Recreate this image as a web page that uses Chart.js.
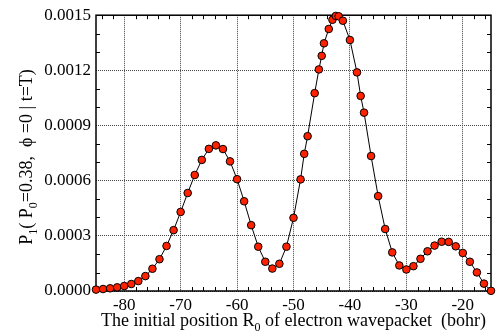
<!DOCTYPE html>
<html><head><meta charset="utf-8">
<script src="https://cdn.jsdelivr.net/npm/chart.js@4/dist/chart.umd.min.js"></script>
<style>html,body{margin:0;padding:0;background:#fff}#wrap{width:496px;height:336px;position:relative}</style>
</head><body><div id="wrap"><canvas id="c" width="496" height="336"></canvas></div>
<script>
// Initial position R0 (bohr)
const positions = [
  -85, -83.75, -82.5, -81.25, -80, -78.75, -77.5, -76.25, -75, -73.75,
  -72.5, -71.25, -70, -68.75, -67.5, -66.25, -65, -63.75, -62.5, -61.25,
  -60, -58.75, -57.5, -56.25, -55, -53.75, -52.5, -51.25, -50, -48.75,
  -48.1, -47.5, -46.25, -45.5, -45, -44.6, -43.75, -43.1, -42.5, -42.0,
  -41.25, -40, -38.75, -38.1, -37.5, -36.25, -35, -33.75, -32.5, -31.25,
  -30, -28.75, -27.5, -26.25, -25, -23.75, -22.5, -21.25, -20, -18.75,
  -17.5, -16.25, -15
];
// Probability P1
const probabilities = [
  0.0000076, 0.0000108, 0.0000146, 0.000020, 0.000027, 0.000038, 0.000054, 0.000081, 0.000121, 0.000173,
  0.000245, 0.000331, 0.000430, 0.000533, 0.000631, 0.000713, 0.000773, 0.000792, 0.000772, 0.000705,
  0.000608, 0.000488, 0.000358, 0.000241, 0.000159, 0.000122, 0.000148, 0.000241, 0.000398, 0.000607,
  0.000746, 0.000842, 0.001076, 0.001205, 0.001279, 0.001347, 0.001425, 0.001475, 0.001496, 0.001494,
  0.001470, 0.001365, 0.001189, 0.001061, 0.000970, 0.000734, 0.000516, 0.000337, 0.000210, 0.000139,
  0.000117, 0.000135, 0.000175, 0.000216, 0.000247, 0.000268, 0.000267, 0.000243, 0.000207, 0.000159,
  0.000101, 0.000040, 0.000001
];
const xTicks = [-80, -70, -60, -50, -40, -30, -20];
const yTicks = [0, 0.0003, 0.0006, 0.0009, 0.0012, 0.0015];
const xMinorTicks = [-84, -82, -78, -76, -74, -72, -68, -66, -64, -62, -58, -56, -54, -52, -48, -46, -44, -42, -38, -36, -34, -32, -28, -26, -24, -22, -18, -16];
const yMinorTicks = [0.0001, 0.0002, 0.0004, 0.0005, 0.0007, 0.0008, 0.0010, 0.0011, 0.0013, 0.0014];
const xTitleParts = [['The initial position R', false], ['0', true], [' of electron wavepacket  (bohr)', false]];
const yTitleParts = [['P', false], ['1', true], ['( P', false], ['0', true], ['=0.38,  \u03D5 =0 | t=T)', false]];

const FONT = 'Liberation Serif, Times New Roman, serif';

function drawParts(ctx, parts, cx, baseY, size) {
  const subSize = Math.round(size * 0.66);
  let total = 0;
  const widths = parts.map(([t, sub]) => {
    ctx.font = (sub ? subSize : size) + 'px ' + FONT;
    const w = ctx.measureText(t).width;
    total += w;
    return w;
  });
  let x = cx - total / 2;
  ctx.textAlign = 'left';
  ctx.textBaseline = 'alphabetic';
  ctx.fillStyle = '#000';
  parts.forEach(([t, sub], i) => {
    ctx.font = (sub ? subSize : size) + 'px ' + FONT;
    ctx.fillText(t, x, baseY + (sub ? size * 0.28 : 0));
    x += widths[i];
  });
}

const framePlugin = {
  id: 'frame',
  beforeDatasetsDraw(chart) {
    const { ctx, chartArea: a, scales } = chart;
    ctx.save();
    ctx.strokeStyle = '#000';
    ctx.lineWidth = 1;
    ctx.beginPath();
    xMinorTicks.forEach(v => {
      const px = Math.round(scales.x.getPixelForValue(v)) + 0.5;
      ctx.moveTo(px, a.bottom); ctx.lineTo(px, a.bottom - 4);
      ctx.moveTo(px, a.top); ctx.lineTo(px, a.top + 4);
    });
    yMinorTicks.forEach(v => {
      const py = Math.round(scales.y.getPixelForValue(v)) + 0.5;
      ctx.moveTo(a.left, py); ctx.lineTo(a.left + 4, py);
      ctx.moveTo(a.right, py); ctx.lineTo(a.right - 4, py);
    });
    ctx.stroke();
    ctx.lineWidth = 1.5;
    ctx.strokeRect(a.left, a.top, a.right - a.left, a.bottom - a.top);
    ctx.restore();
  },
  afterDraw(chart) {
    const { ctx } = chart;
    ctx.save();
    drawParts(ctx, xTitleParts, 293.5, 326, 18);
    ctx.translate(32, 157);
    ctx.rotate(-Math.PI / 2);
    drawParts(ctx, yTitleParts, 0, 0, 18);
    ctx.restore();
  }
};

new Chart(document.getElementById('c'), {
  type: 'line',
  data: {
    datasets: [{
      data: positions.map((x, i) => ({ x: x, y: probabilities[i] })),
      borderColor: '#000',
      borderWidth: 1,
      pointRadius: 3.8,
      pointBackgroundColor: '#ff2200',
      pointBorderColor: '#000',
      pointBorderWidth: 1,
      tension: 0,
      clip: false
    }]
  },
  options: {
    responsive: false,
    animation: false,
    layout: { padding: { left: 0, top: 13, right: 5, bottom: 0 } },
    plugins: { legend: { display: false }, tooltip: { enabled: false } },
    scales: {
      x: {
        type: 'linear', min: -85, max: -15,
        afterBuildTicks: s => { s.ticks = xTicks.map(v => ({ value: v })); },
        afterFit: s => { s.height = 45; },
        grid: { color: '#444', lineWidth: 1, drawTicks: false },
        border: { display: false, dash: [1, 1] },
        ticks: { color: '#000', padding: 4, maxRotation: 0, autoSkip: false,
                 font: { family: FONT, size: 17 }, callback: v => String(v) }
      },
      y: {
        type: 'linear', min: 0, max: 0.0015,
        afterBuildTicks: s => { s.ticks = yTicks.map(v => ({ value: v })); },
        afterFit: s => { s.width = 96; },
        grid: { color: '#444', lineWidth: 1, drawTicks: false },
        border: { display: false, dash: [1, 1] },
        ticks: { color: '#000', padding: 5, autoSkip: false,
                 font: { family: FONT, size: 17 }, callback: v => Number(v).toFixed(4) }
      }
    }
  },
  plugins: [framePlugin]
});
</script>
</body></html>
